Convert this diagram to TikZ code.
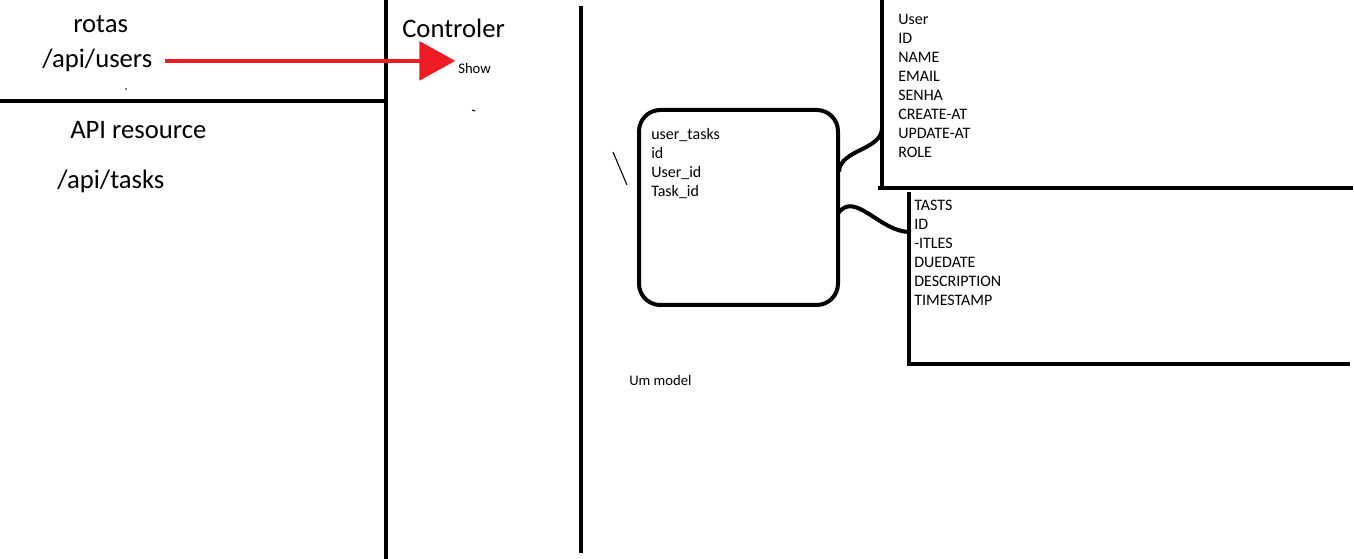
\documentclass[tikz,border=0pt]{standalone}
\usepackage{fontspec}
\setmainfont{Carlito}
\usetikzlibrary{positioning, calc, arrows.meta}
\definecolor{arrowred}{RGB}{237,28,36}

\begin{document}
\begin{tikzpicture}[x=0.75pt, y=-0.75pt,
    wall/.style={line width=3pt},
    big/.style={inner sep=0pt, anchor=base west, font=\fontsize{20}{24}\selectfont},
    small/.style={inner sep=0pt, anchor=base west, align=left, font=\fontsize{12}{14.25}\selectfont},
    note/.style={inner sep=0pt, anchor=base west, font=\fontsize{11}{13}\selectfont},
    tablebox/.style={draw, line width=3pt, rounded corners=16pt, minimum width=149.25pt, minimum height=146.25pt},
    flow/.style={draw=arrowred, line width=3pt, -{Triangle[length=27pt, width=29pt]}}]
    \useasboundingbox (0,0) rectangle (1354,559);
    % columns
    \draw[wall] (386,0) -- (386,559);
    \draw[wall] (0,101) -- (386,101);
    \draw[wall] (581,6) -- (581,553);
    % routes
    \node[big] (rotas) at (73,33) {rotas};
    \node[big] (users) at (42,68) {/api/users};
    \node[big] (res) at (70,139) {API resource};
    \node[big] (tasks) at (57,189) {/api/tasks};
    % controller
    \node[big] (ctrl) at (402,38) {Controler};
    \node[note] (show) at (458,74) {Show};
    \draw[flow] ([xshift=9pt]users.east) -- ([xshift=-2pt]show.west |- users.east);
    % model (base = last line)
    \node[tablebox] (ut) at (738.5,207.5) {};
    \node[small] (utf) at (651,197) {user\_tasks\\id\\User\_id\\Task\_id};
    \node[note] (model) at (629,386) {Um model};
    % tables
    \draw[wall] (882,0) -- (882,188);
    \draw[wall] (878,188) -- (1353,188);
    \node[small] (userf) at (898,158) {User\\ID\\NAME\\EMAIL\\SENHA\\CREATE-AT\\UPDATE-AT\\ROLE};
    \draw[wall] (909,192) -- (909,364) -- (1350,364);
    \node[small] (taskf) at (914,306) {TASTS\\ID\\-ITLES\\DUEDATE\\DESCRIPTION\\TIMESTAMP};
    \coordinate (uwall) at (882,128);
    \coordinate (twall) at (911,232);
    \draw[wall] ($(ut.east)+(-1,-36)$) .. controls +(1,-22) and +(0,22) .. (uwall);
    \draw[wall] ($(ut.east)+(-2,6)$) .. controls +(17,-24) and +(-31,1) .. (twall);
    % pen marks
    \draw[line width=0.8pt] (613,152) -- (627,185);
    \fill (126,89) circle (0.8);
    \draw[line width=0.8pt] (472,110) -- (475,111);
\end{tikzpicture}
\end{document}
